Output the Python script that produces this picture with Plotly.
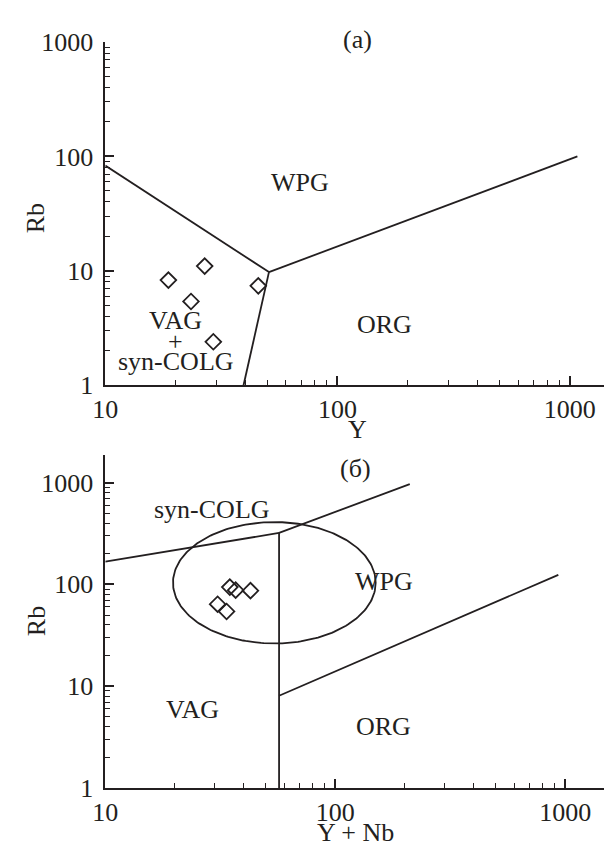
import math
import numpy as np
import plotly.graph_objects as go

INK = "#231f20"
FONT = "Liberation Serif"
FS = 26

# ---- panel (а): Rb vs Y ----
y_a = [18.7, 26.8, 23.4, 29.2, 45.6]
rb_a = [8.3, 11.0, 5.4, 2.4, 7.4]

# field boundaries (Y, Rb) pairs for each segment
bound_a_x = [[10, 50.7], [50.7, 1080], [50.7, 39.4]]
bound_a_y = [[83.3, 9.75], [9.75, 100], [9.75, 1]]

# ---- panel (б): Rb vs Y+Nb ----
ynb_b = [34.8, 36.9, 42.8, 30.8, 33.7]
rb_b = [94.0, 87.7, 86.8, 63.9, 54.2]

bound_b_x = [[10, 57], [57, 211], [57, 57], [57, 934]]
bound_b_y = [[167, 320], [320, 966], [320, 1], [8.07, 124]]

# post-collisional granite field: ellipse extent along Y+Nb and Rb
ell_x = [19.7, 150]
ell_y = [26.3, 409]

tick_major = [1, 10, 100, 1000]
tick_labels = ["1", "10", "100", "1000"]
tick_minor = [m * d for d in (1, 10, 100) for m in range(2, 10)]

W, H = 604, 855
LW = 1.8

fig = go.Figure()

for xs, ys in zip(bound_a_x, bound_a_y):
    fig.add_trace(go.Scatter(x=xs, y=ys, mode="lines", xaxis="x", yaxis="y",
                             line=dict(color=INK, width=LW), hoverinfo="skip"))
fig.add_trace(go.Scatter(x=y_a, y=rb_a, mode="markers", xaxis="x", yaxis="y",
                         marker=dict(symbol="diamond-open", size=12, color=INK,
                                     line=dict(width=1.8, color=INK))))

# ellipse outline, traced in log space so it stays an ellipse on log axes
lx = np.log10(ell_x)
ly = np.log10(ell_y)
cx, rx = lx.mean(), (lx[1] - lx[0]) / 2
cy, ry = ly.mean(), (ly[1] - ly[0]) / 2
t = np.linspace(0, 2 * np.pi, 241)
fig.add_trace(go.Scatter(x=10 ** (cx + rx * np.cos(t)), y=10 ** (cy + ry * np.sin(t)),
                         mode="lines", xaxis="x2", yaxis="y2",
                         line=dict(color=INK, width=LW), hoverinfo="skip"))

for xs, ys in zip(bound_b_x, bound_b_y):
    fig.add_trace(go.Scatter(x=xs, y=ys, mode="lines", xaxis="x2", yaxis="y2",
                             line=dict(color=INK, width=LW), hoverinfo="skip"))
fig.add_trace(go.Scatter(x=ynb_b, y=rb_b, mode="markers", xaxis="x2", yaxis="y2",
                         marker=dict(symbol="diamond-open", size=12, color=INK,
                                     line=dict(width=1.8, color=INK))))


def axis(domain, rng, anchor, vals, texts, standoff):
    return dict(
        type="log", domain=domain, range=rng, anchor=anchor,
        showgrid=False, zeroline=False, showline=True,
        linecolor=INK, linewidth=1.8,
        ticks="inside", ticklen=9, tickwidth=1.6, tickcolor=INK,
        tickmode="array", tickvals=vals, ticktext=texts,
        ticklabelstandoff=standoff,
        tickfont=dict(family=FONT, size=FS, color=INK),
        minor=dict(ticks="inside", ticklen=5, tickwidth=1.3, tickcolor=INK,
                   tickmode="array", tickvals=tick_minor, showgrid=False),
    )


left = 94.3 / W
fig.update_layout(
    width=W, height=H,
    margin=dict(l=0, r=0, t=0, b=0, pad=0),
    paper_bgcolor="white", plot_bgcolor="white",
    showlegend=False,
    xaxis=axis([left, 1], [1, 3.148], "y", tick_major[1:], tick_labels[1:], 0),
    yaxis=axis([470.7 / H, 826 / H], [0, 3], "x", tick_major, tick_labels, 5),
    xaxis2=axis([left, 1], [1, 3.169], "y2", tick_major[1:], tick_labels[1:], 0),
    yaxis2=axis([53.7 / H, 398.3 / H], [0, 3.268], "x2", tick_major, tick_labels, 5),
)


def paper_text(txt, px, py, angle=0, size=FS):
    fig.add_annotation(text=txt, x=px / W, y=1 - py / H, xref="paper", yref="paper",
                       xanchor="center", yanchor="middle", showarrow=False,
                       textangle=angle, font=dict(family=FONT, size=size, color=INK))


def data_text(txt, x, y, xr, yr, size=FS):
    fig.add_annotation(text=txt, x=math.log10(x), y=math.log10(y), xref=xr, yref=yr,
                       xanchor="center", yanchor="middle", showarrow=False,
                       font=dict(family=FONT, size=size, color=INK))


# panel titles and axis titles
paper_text("(а)", 351.7, 26.5)
paper_text("(б)", 350, 470)
paper_text("Y", 351.7, 430)
paper_text("Y + Nb", 350, 847)
paper_text("Rb", 23, 212, angle=-90)
paper_text("Rb", 24, 628, angle=-90)

# field names, panel (а)
data_text("WPG", 68.7, 58.9, "x", "y")
data_text("ORG", 160, 3.43, "x", "y")
data_text("VAG", 20.1, 3.71, "x", "y")
data_text("+", 20.0, 2.42, "x", "y")
data_text("syn-COLG", 20.1, 1.60, "x", "y")

# field names, panel (б)
data_text("syn-COLG", 29.2, 543, "x2", "y2")
data_text("WPG", 163, 106, "x2", "y2")
data_text("VAG", 24.0, 5.97, "x2", "y2")
data_text("ORG", 162.5, 4.03, "x2", "y2")

fig.write_html("out.html")
